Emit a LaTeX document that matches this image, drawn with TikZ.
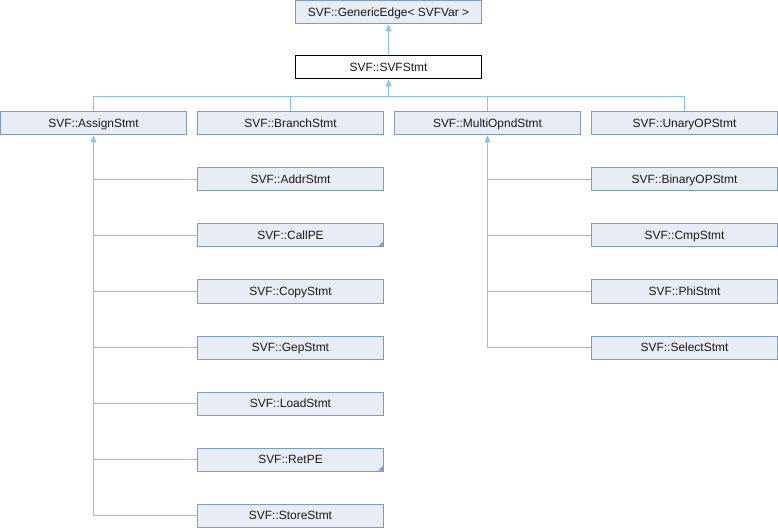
\documentclass[tikz,border=0pt]{standalone}
\usepackage{fontspec}
\setmainfont{Liberation Sans}
\usetikzlibrary{arrows.meta,calc}
\definecolor{boxfill}{RGB}{232,236,245}
\definecolor{boxdraw}{RGB}{128,152,202}
\definecolor{edgecol}{RGB}{135,195,235}
\tikzset{
  cls/.style={draw=boxdraw, fill=boxfill, line width=1bp, minimum width=186bp, minimum height=23bp, inner sep=0pt, text height=8.6pt, text depth=0pt, font=\fontsize{12}{14}\selectfont, text=black!90},
  cur/.style={cls, draw=black, fill=white},
  conn/.style={draw=edgecol, line width=1bp},
  inh/.style={conn, -{Triangle[width=6bp,length=7bp,fill=edgecol]}},
  corner/.style={fill=boxdraw, draw=none}
}
\begin{document}
\begin{tikzpicture}[x=1bp,y=-1bp]
\useasboundingbox (0,0) rectangle (778,528);
\node[cls] (ge) at (388.5,12.5) {SVF::GenericEdge< SVFVar >};
\node[cur] (svf) at (388.5,67.5) {SVF::SVFStmt};
\node[cls] (assign) at (93.5,123.5) {SVF::AssignStmt};
\node[cls] (branch) at (290.5,123.5) {SVF::BranchStmt};
\node[cls] (multi) at (487.5,123.5) {SVF::MultiOpndStmt};
\node[cls] (unary) at (684.5,123.5) {SVF::UnaryOPStmt};
\node[cls] (addr) at (290.5,179.5) {SVF::AddrStmt};
\node[cls] (callpe) at (290.5,235.5) {SVF::CallPE};
\node[cls] (copy) at (290.5,291.5) {SVF::CopyStmt};
\node[cls] (gep) at (290.5,347.5) {SVF::GepStmt};
\node[cls] (load) at (290.5,403.5) {SVF::LoadStmt};
\node[cls] (retpe) at (290.5,459.5) {SVF::RetPE};
\node[cls] (store) at (290.5,515.5) {SVF::StoreStmt};
\node[cls] (binary) at (684.5,179.5) {SVF::BinaryOPStmt};
\node[cls] (cmp) at (684.5,235.5) {SVF::CmpStmt};
\node[cls] (phi) at (684.5,291.5) {SVF::PhiStmt};
\node[cls] (select) at (684.5,347.5) {SVF::SelectStmt};
% corner marks
\fill[corner] (callpe.south east) ++(-1,-1) -- ++(0,-5) -- ++(-5,5) -- cycle;
\fill[corner] (retpe.south east) ++(-1,-1) -- ++(0,-5) -- ++(-5,5) -- cycle;
% top edge
\draw[inh] (svf.north) -- (ge.south);
% bus under SVFStmt
\coordinate (bus) at (388.5,96.5);
\draw[conn] (assign.north) |- (bus);
\draw[conn] (unary.north) |- (bus);
\draw[conn] (branch.north) -- (branch.north |- bus);
\draw[conn] (multi.north) -- (multi.north |- bus);
\draw[inh] (bus) -- (svf.south);
% AssignStmt children
\coordinate (atr) at ($(assign.south)+(0,8)$);
\coordinate (aend) at (assign.south |- store.west);
\draw[conn] (store.west) -- (aend) -- (atr);
\draw[conn] (addr.west) -- (addr.west -| atr);
\draw[conn] (callpe.west) -- (callpe.west -| atr);
\draw[conn] (copy.west) -- (copy.west -| atr);
\draw[conn] (gep.west) -- (gep.west -| atr);
\draw[conn] (load.west) -- (load.west -| atr);
\draw[conn] (retpe.west) -- (retpe.west -| atr);
\draw[inh] (atr) -- (assign.south);
% MultiOpndStmt children
\coordinate (mtr) at ($(multi.south)+(0,8)$);
\coordinate (mend) at (multi.south |- select.west);
\draw[conn] (select.west) -- (mend) -- (mtr);
\draw[conn] (binary.west) -- (binary.west -| mtr);
\draw[conn] (cmp.west) -- (cmp.west -| mtr);
\draw[conn] (phi.west) -- (phi.west -| mtr);
\draw[inh] (mtr) -- (multi.south);
\end{tikzpicture}
\end{document}
